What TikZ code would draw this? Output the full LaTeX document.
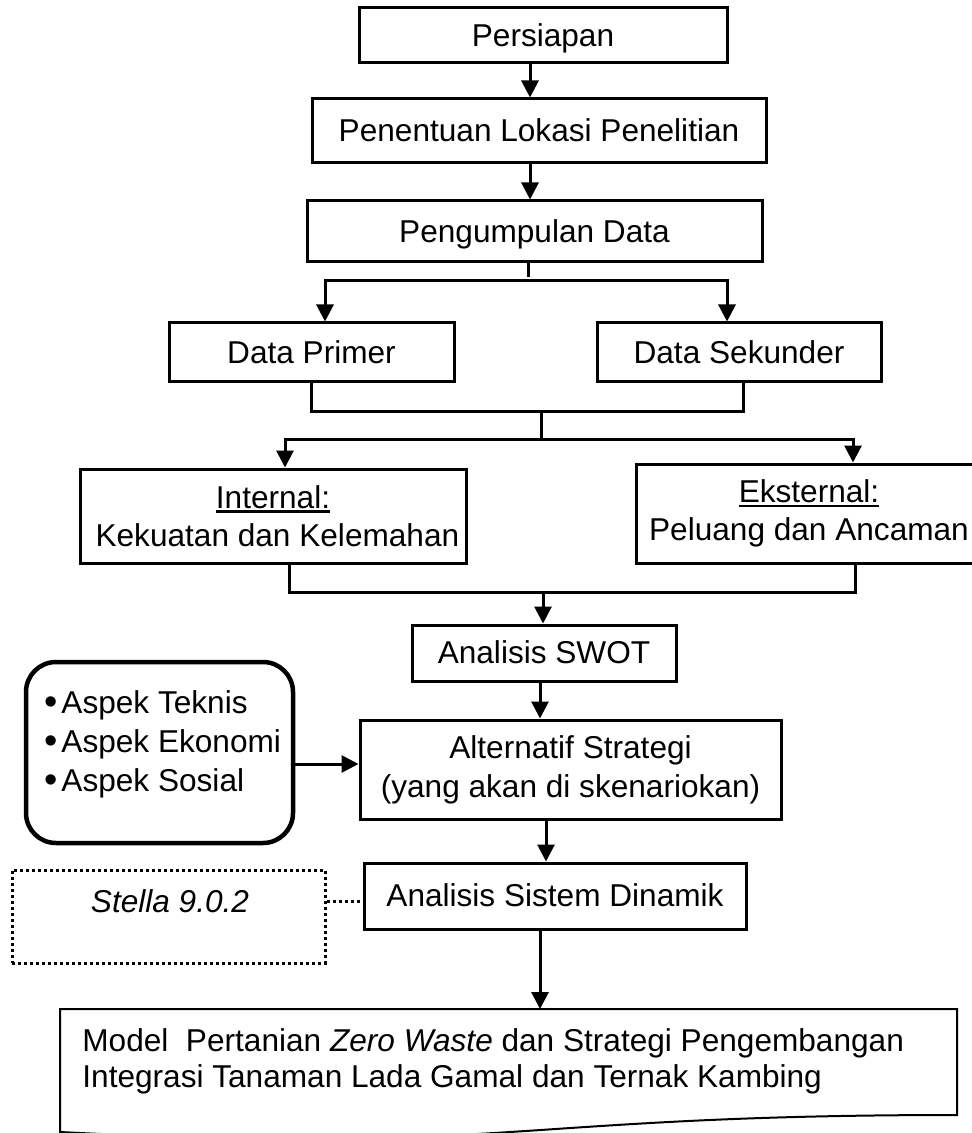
\documentclass[tikz,border=0pt]{standalone}
\usepackage{fontspec}
\setmainfont{Liberation Sans}
\usetikzlibrary{arrows.meta}
% underline with a rule set just below the baseline
\newcommand\myul[1]{\setbox0\hbox{#1}\rlap{\rule[-0.14em]{\wd0}{0.075em}}\box0}
\newcommand\mybul{\raisebox{-0.04em}{\scalebox{1.2}{\textbullet}}\hspace{0.12em}}
\begin{document}
\begin{tikzpicture}[x=0.5pt,y=-0.5pt,
  every node/.style={font=\fontsize{15.8pt}{19pt}\selectfont, inner sep=0pt},
  box/.style={draw, line width=1.5pt, align=center},
  oneline/.style={box, text height=14.3pt, text depth=3.35pt},
  ln/.style={line width=1.5pt},
  arr/.style={line width=1.5pt, -{Triangle[length=8.5pt,width=8.5pt]}},
  dotln/.style={line width=1.5pt, dash pattern=on 1.5pt off 1.5pt},
  roundbox/.style={draw, line width=2.25pt, rounded corners=15pt}]
\useasboundingbox (0,0) rectangle (972,1133);

% main flow boxes
\node[oneline, minimum width=184pt, minimum height=27.5pt] (persiapan) at (543,35.5) {Persiapan};
\node[oneline, minimum width=227pt, minimum height=32pt] (penentuan) at (539,131) {Penentuan Lokasi Penelitian};
\node[oneline, minimum width=227.5pt, minimum height=30.5pt] (pengumpulan) at (534.5,231.5) {Pengumpulan Data};
\node[oneline, minimum width=142.5pt, minimum height=29.5pt] (primer) at (311.5,352.5) {Data Primer};
\node[oneline, minimum width=142pt, minimum height=29.5pt] (sekunder) at (739,352.5) {Data Sekunder};
\node[box, minimum width=193pt, minimum height=47pt] (internal) at (273,516)
  {\myul{Internal:}\\\hspace*{0.28em}Kekuatan dan Kelemahan};
\node[box, minimum width=173pt, minimum height=49.5pt] (eksternal) at (809,513.5)
  {\myul{Eksternal:}\\Peluang dan Ancaman};
\node[oneline, minimum width=132pt, minimum height=28pt] (swot) at (544,653) {Analisis SWOT};
\node[box, minimum width=210.5pt, minimum height=49.5pt, font=\fontsize{15.8pt}{19.5pt}\selectfont] (alt) at (570.5,769.5)
  {Alternatif Strategi\\(yang akan di skenariokan)};
\node[oneline, minimum width=191pt, minimum height=33pt] (asd) at (555,896) {Analisis Sistem Dinamik};

% side boxes
\node[roundbox, minimum width=133.5pt, minimum height=90.5pt] (aspek) at (159.5,752.5) {};
\node[anchor=west, align=left, font=\fontsize{15.8pt}{19.5pt}\selectfont] (bullets) at (44,744)
  {\mybul Aspek Teknis\\\mybul Aspek Ekonomi\\\mybul Aspek Sosial};
\node[draw, dotln, minimum width=156.5pt, minimum height=46.5pt] (stellabox) at (168.5,916.5) {};
\node[font=\fontsize{15.8pt}{19pt}\selectfont\itshape] (stella) at (170,901) {Stella 9.0.2};

% document shape with wavy bottom
\begin{scope}
  \clip (0,0) rectangle (972,1133);
  \draw[line width=1pt] (60,1009) -- (957,1009) -- (957,1115)
    .. controls (508,1115) and (508,1155) .. (60,1132) -- cycle;
\end{scope}
\coordinate (docin) at (540,1009);
\node[anchor=west, align=left, font=\fontsize{15.8pt}{18pt}\selectfont] (model) at (82,1061)
  {Model\ \ Pertanian \textit{Zero Waste} dan Strategi Pengembangan\\Integrasi Tanaman Lada Gamal dan Ternak Kambing};

% connector positions
\coordinate (xa) at (530,0);
\coordinate (xb) at (325,0);
\coordinate (xc) at (727,0);
\coordinate (xd) at (743,0);
\coordinate (xe) at (285,0);
\coordinate (xf) at (853,0);
\coordinate (xg) at (289,0);
\coordinate (xh) at (855,0);
\coordinate (xi) at (540,0);
\coordinate (xj) at (546,0);
\coordinate (ya) at (0,764);
\coordinate (t1) at (528,277);
\coordinate (j1) at (528,281);
\coordinate (j2) at (541,412);
\coordinate (j3) at (541,439);
\coordinate (j4) at (543,592);

% connectors
\draw[arr] (persiapan.south -| xa) -- (penentuan.north -| xa);
\draw[arr] (penentuan.south -| xa) -- (pengumpulan.north -| xa);
\draw[ln] (pengumpulan.south -| t1) -- (t1);
\draw[arr] (j1) -| (primer.north -| xb);
\draw[arr] (j1) -| (sekunder.north -| xc);
\draw[ln] (primer.south) |- (j2) -| (sekunder.south -| xd);
\draw[ln] (j2) -- (j3);
\draw[arr] (j3) -| (internal.north -| xe);
\draw[arr] (j3) -| (eksternal.north -| xf);
\draw[ln] (internal.south -| xg) |- (j4) -| (eksternal.south -| xh);
\draw[arr] (j4) -- (swot.north -| j4);
\draw[arr] (swot.south -| xi) -- (alt.north -| xi);
\draw[arr] (alt.south -| xj) -- (asd.north -| xj);
\draw[arr] (asd.south -| xi) -- (docin);
\draw[arr] (aspek.east |- ya) -- (alt.west |- ya);
\draw[dotln] (stellabox.east |- stella) -- (asd.west |- stella);
\end{tikzpicture}
\end{document}
